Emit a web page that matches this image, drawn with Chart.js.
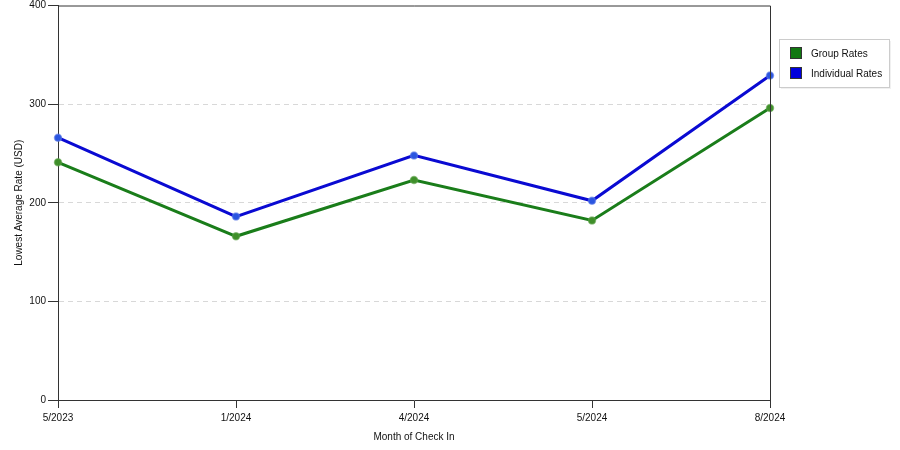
<!DOCTYPE html>
<html>
<head>
<meta charset="utf-8">
<script src="https://cdn.jsdelivr.net/npm/chart.js@4"></script>
<style>
  html, body { margin: 0; padding: 0; background: #fff; }
  #wrap { width: 900px; height: 450px; }
</style>
</head>
<body>
<div id="wrap"><canvas id="rates"></canvas></div>
<script>
const months = ['5/2023', '1/2024', '4/2024', '5/2024', '8/2024'];
const groupRates = [241, 166, 223, 182, 296];
const individualRates = [266, 186, 248, 202, 329];
const yTicks = [0, 100, 200, 300, 400];

const FONT = 'Liberation Sans, Arial, sans-serif';
const GREEN = '#1a7d1a';
const BLUE = '#0a0ad2';

// frame on top/right of the plot + boxed legend on the right
const framePlugin = {
  id: 'frame',
  afterDraw(chart) {
    const { ctx, chartArea: a } = chart;
    ctx.save();
    ctx.strokeStyle = '#333';
    ctx.lineWidth = 1;
    ctx.beginPath();
    ctx.moveTo(a.left, a.top + 0.5);
    ctx.lineTo(a.right + 0.5, a.top + 0.5);
    ctx.lineTo(a.right + 0.5, a.bottom);
    ctx.stroke();

    // legend
    const lx = 779, ly = 39, lw = 110, lh = 48;
    ctx.fillStyle = 'rgba(0,0,0,0.06)';
    ctx.fillRect(lx + 2, ly + 2, lw, lh);
    ctx.fillStyle = '#fff';
    ctx.fillRect(lx, ly, lw, lh);
    ctx.strokeStyle = '#ccc';
    ctx.strokeRect(lx + 0.5, ly + 0.5, lw, lh);
    ctx.font = '10px ' + FONT;
    ctx.textBaseline = 'middle';
    chart.data.datasets.forEach((ds, i) => {
      const y = ly + 8 + i * 20;
      ctx.fillStyle = ds.legendColor;
      ctx.fillRect(lx + 11, y, 12, 12);
      ctx.strokeStyle = '#333';
      ctx.strokeRect(lx + 11.5, y + 0.5, 11, 11);
      ctx.fillStyle = '#111';
      ctx.fillText(ds.label, lx + 32, y + 7);
    });
    ctx.restore();
  }
};

new Chart(document.getElementById('rates'), {
  type: 'line',
  data: {
    labels: months,
    datasets: [{
      label: 'Group Rates',
      data: groupRates,
      borderColor: GREEN,
      legendColor: '#117711',
      borderWidth: 3,
      pointRadius: 3.5,
      pointBackgroundColor: '#3f8f2a',
      pointBorderColor: 'rgba(90,160,70,0.6)',
      pointBorderWidth: 1.5,
      tension: 0,
      fill: false,
    }, {
      label: 'Individual Rates',
      data: individualRates,
      borderColor: BLUE,
      legendColor: '#0000dd',
      borderWidth: 3,
      pointRadius: 3.5,
      pointBackgroundColor: '#2a55e0',
      pointBorderColor: 'rgba(90,120,230,0.6)',
      pointBorderWidth: 1.5,
      tension: 0,
      fill: false,
    }]
  },
  options: {
    responsive: true,
    maintainAspectRatio: false,
    animation: false,
    devicePixelRatio: 1,
    layout: { padding: { top: 0, right: 130, left: 0, bottom: 0 } },
    plugins: {
      legend: { display: false },
      tooltip: { enabled: false }
    },
    scales: {
      x: {
        offset: false,
        afterFit(scale) {
          scale.height = 50;
          scale.paddingLeft = 0;
          scale.paddingRight = 0;
        },
        grid: {
          drawOnChartArea: false,
          tickLength: 8,
          tickColor: '#333',
          color: '#333'
        },
        border: { display: true, color: '#333', width: 1 },
        ticks: {
          color: '#111',
          font: { family: FONT, size: 10 },
          padding: 4,
          maxRotation: 0,
          autoSkip: false
        },
        title: {
          display: true,
          text: 'Month of Check In',
          color: '#111',
          font: { family: FONT, size: 10 },
          padding: { top: 0, bottom: 7 }
        }
      },
      y: {
        min: 0,
        max: 400,
        afterFit(scale) {
          scale.width = 58;
          scale.paddingTop = 5;
          scale.paddingBottom = 0;
        },
        afterBuildTicks(scale) { scale.ticks = yTicks.map(v => ({ value: v })); },
        grid: {
          color: (c) => (c.tick && (c.tick.value === 0 || c.tick.value === 400)) ? 'rgba(0,0,0,0)' : '#d8d8d8',
          tickColor: '#333',
          tickLength: 10,
          tickBorderDash: [],
          lineWidth: 1
        },
        border: { display: true, color: '#333', width: 1, dash: [5, 4] },
        ticks: {
          color: '#111',
          font: { family: FONT, size: 10 },
          padding: 2
        },
        title: {
          display: true,
          text: 'Lowest Average Rate (USD)',
          color: '#111',
          font: { family: FONT, size: 10 },
          padding: { top: 13, bottom: 0 }
        }
      }
    }
  },
  plugins: [framePlugin]
});
</script>
</body>
</html>
